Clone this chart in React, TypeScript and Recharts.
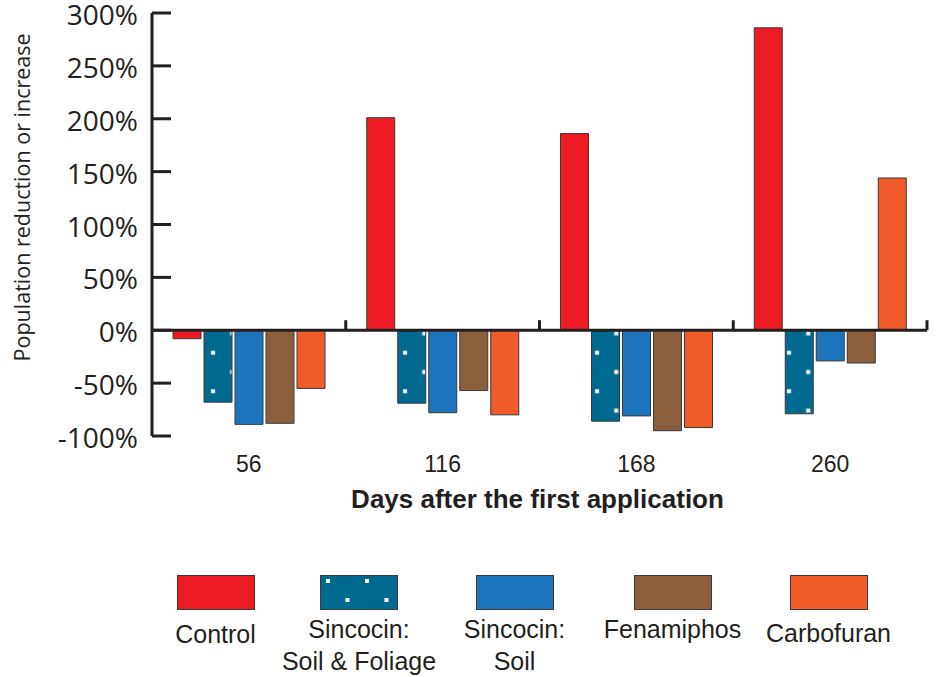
import { Bar, BarChart, Legend, ReferenceLine, XAxis, YAxis } from "recharts";

const days = ["56", "116", "168", "260"];
const control = [-8, 201, 186, 286];
const sincocinSoilFoliage = [-68, -69, -86, -79];
const sincocinSoil = [-89, -78, -81, -29];
const fenamiphos = [-88, -57, -95, -31];
const carbofuran = [-55, -80, -92, 144];
const yTicks = [-100, -50, 0, 50, 100, 150, 200, 250, 300];

const seriesKeys = ["control", "soilFoliage", "soil", "fenamiphos", "carbofuran"];
const seriesLabels = [
  ["Control"],
  ["Sincocin:", "Soil & Foliage"],
  ["Sincocin:", "Soil"],
  ["Fenamiphos"],
  ["Carbofuran"],
];
const seriesColors = ["#ED1C24", "#006990", "#1C75BC", "#8B5E3C", "#F15A29"];

// legend layout (item centres and label nudges, px)
const legendCenters = [215.5, 359, 514.5, 672.5, 828.5];
const labelNudge = [5, 0, 0, 0, 4];

const data = days.map((day, i) => ({
  day,
  control: control[i],
  soilFoliage: sincocinSoilFoliage[i],
  soil: sincocinSoil[i],
  fenamiphos: fenamiphos[i],
  carbofuran: carbofuran[i],
}));

const ink = "#231F20";
const helv = "'Liberation Sans', Arial, Helvetica, sans-serif";
const myriad = "'Open Sans', 'DejaVu Sans', sans-serif";

function YTick({ x, y, payload }: any) {
  const axisX = x + 14;
  return (
    <g>
      <line x1={axisX} x2={axisX + 19} y1={y} y2={y} stroke={ink} strokeWidth={3} />
      <text x={x} y={y} dy={12} textAnchor="end" fontFamily={myriad} fontSize={28} fill={ink}>
        {payload.value}%
      </text>
    </g>
  );
}

function XTick({ x, y, payload }: any) {
  return (
    <text x={x} y={y} dy={36} textAnchor="middle" fontFamily={helv} fontSize={23} fill={ink}>
      {payload.value}
    </text>
  );
}

function Swatch({ index }: { index: number }) {
  const fill = index === 1 ? "url(#dotsLegend)" : seriesColors[index];
  return (
    <svg width={78} height={35} style={{ display: "block" }}>
      {index === 1 && (
        <defs>
          <pattern id="dotsLegend" patternUnits="userSpaceOnUse" x={-2} y={-4} width={39} height={38}>
            <rect width={39} height={38} fill={seriesColors[1]} />
            <rect x={8} y={8} width={4} height={4} fill="#fff" />
            <rect x={27.5} y={27} width={4} height={4} fill="#fff" />
          </pattern>
        </defs>
      )}
      <rect x={0.5} y={0.5} width={77} height={34} fill={fill} stroke="#3a3a3a" strokeWidth={1} />
    </svg>
  );
}

function LegendBlock() {
  return (
    <div style={{ position: "relative", width: 938, height: 102 }}>
      {seriesKeys.map((key, i) => (
        <div
          key={key}
          style={{
            position: "absolute",
            left: legendCenters[i] - 90,
            top: 0,
            width: 180,
            display: "flex",
            flexDirection: "column",
            alignItems: "center",
          }}
        >
          <Swatch index={i} />
          <div
            style={{
              marginTop: 3 + labelNudge[i],
              fontFamily: helv,
              fontSize: 25,
              lineHeight: "32px",
              color: ink,
              textAlign: "center",
              whiteSpace: "nowrap",
            }}
          >
            {seriesLabels[i].map((line) => (
              <div key={line}>{line}</div>
            ))}
          </div>
        </div>
      ))}
    </div>
  );
}

export default function App() {
  return (
    <div style={{ position: "absolute", left: 0, top: 0, width: 938, height: 677, background: "#fff" }}>
      <BarChart
        width={938}
        height={677}
        data={data}
        margin={{ top: 13, right: 11, bottom: 161, left: 0 }}
        barSize={28}
        barGap={3}
      >
        <defs>
          <pattern id="dots" patternUnits="userSpaceOnUse" x={203} y={342.7} width={38.4} height={38.6}>
            <rect width={38.4} height={38.6} fill={seriesColors[1]} />
            <rect x={8} y={8} width={4} height={4} fill="#fff" />
            <rect x={27.2} y={27.3} width={4} height={4} fill="#fff" />
          </pattern>
        </defs>
        <XAxis
          dataKey="day"
          height={80}
          axisLine={false}
          tickLine={false}
          tickSize={0}
          tickMargin={0}
          tick={<XTick />}
          label={(props: any) => {
            const vb = props.viewBox;
            return (
              <text
                x={vb.x + vb.width / 2 - 2}
                y={vb.y + 72}
                textAnchor="middle"
                fontFamily={helv}
                fontWeight="bold"
                fontSize={26}
                fill={ink}
              >
                Days after the first application
              </text>
            );
          }}
        />
        <YAxis
          width={152}
          domain={[-100, 300]}
          ticks={yTicks}
          interval={0}
          axisLine={{ stroke: ink, strokeWidth: 3 }}
          tickLine={false}
          tickSize={0}
          tickMargin={14}
          tick={<YTick />}
          label={(props: any) => {
            const vb = props.viewBox;
            const cx = vb.x + 22;
            const cy = vb.y + vb.height * 0.436;
            return (
              <text
                x={cx}
                y={cy}
                transform={`rotate(-90, ${cx}, ${cy})`}
                textAnchor="middle"
                dominantBaseline="central"
                fontFamily={myriad}
                fontSize={21.5}
                fill={ink}
              >
                Population reduction or increase
              </text>
            );
          }}
        />
        <Legend
          layout="horizontal"
          verticalAlign="middle"
          align="center"
          content={() => <LegendBlock />}
          wrapperStyle={{ position: "absolute", top: 575, left: 0, width: 938 }}
        />
        {seriesKeys.map((key, i) => (
          <Bar
            key={key}
            dataKey={key}
            fill={i === 1 ? "url(#dots)" : seriesColors[i]}
            stroke="#3a3a3a"
            strokeWidth={1}
            isAnimationActive={false}
          />
        ))}
        <ReferenceLine y={0} stroke={ink} strokeWidth={3} />
        {days.map((d) => (
          <ReferenceLine
            key={d}
            segment={[
              { x: d, y: 0 },
              { x: d, y: 9.5 },
            ]}
            position="end"
            stroke={ink}
            strokeWidth={3}
          />
        ))}
      </BarChart>
    </div>
  );
}
